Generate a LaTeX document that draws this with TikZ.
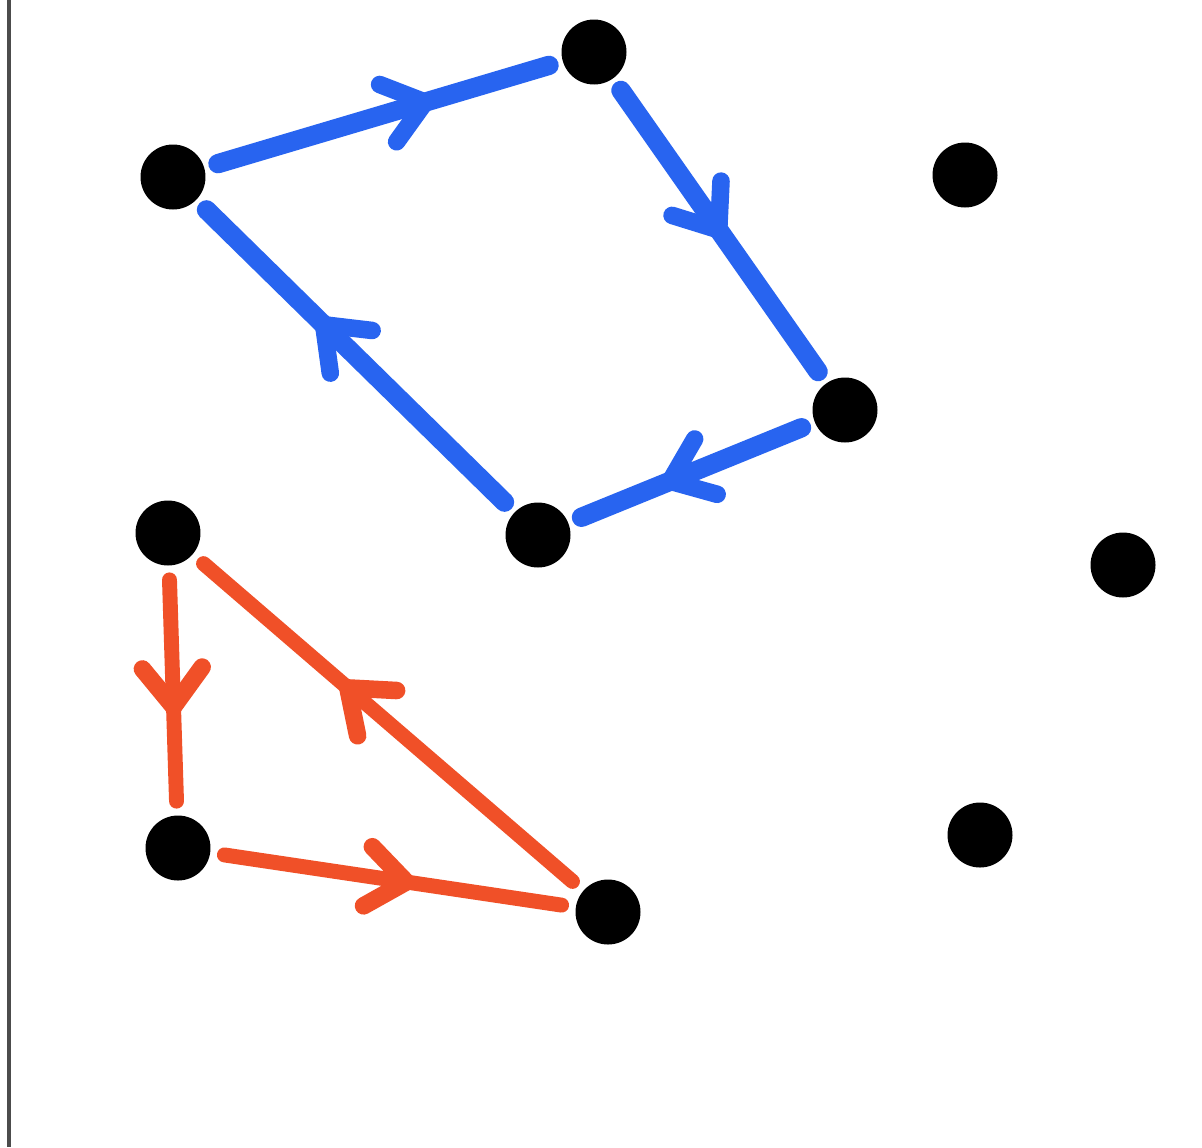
\documentclass[tikz,border=0pt]{standalone}
\usetikzlibrary{arrows.meta,decorations.markings}
\definecolor{pblue}{RGB}{40,100,240}
\definecolor{pred}{RGB}{240,80,40}
\tikzset{
  dot/.style={circle,fill=black,minimum size=1.3cm,inner sep=0pt},
  pen/.style={line width=11pt,line cap=round,shorten <=8pt,shorten >=8pt},
  redpen/.style={pen,line width=8.5pt},
  midarrow/.style={postaction={decorate},decoration={markings,mark=at position #1 with {\arrow{Straight Barb[length=22pt,width=34pt,line width=10pt,round]}}}}
}
\begin{document}
\begin{tikzpicture}[x=0.02cm,y=-0.02cm]
\useasboundingbox (0,0) rectangle (1202,1147);
\fill[white] (0,0) rectangle (1202,1147);
\draw[black!70,line width=2pt] (9,0) -- (9,1147);
\node[dot] (A) at (173,177) {};
\node[dot] (B) at (594,52) {};
\node[dot] (C) at (965,175) {};
\node[dot] (D) at (845,410) {};
\node[dot] (E) at (538,535) {};
\node[dot] (F) at (168,533) {};
\node[dot] (G) at (1123,565) {};
\node[dot] (H) at (178,848) {};
\node[dot] (I) at (608,912) {};
\node[dot] (J) at (980,835) {};
\draw[pen,pblue,midarrow=0.64] (A) -- (B);
\draw[pen,pblue,midarrow=0.52] (B) -- (D);
\draw[pen,pblue,midarrow=0.62] (D) -- (E);
\draw[pen,pblue,midarrow=0.62] (E) -- (A);
\draw[redpen,pred,midarrow=0.6] (F) -- (H);
\draw[redpen,pred,midarrow=0.56] (H) -- (I);
\draw[redpen,pred,midarrow=0.62] (I) -- (F);
\end{tikzpicture}
\end{document}
